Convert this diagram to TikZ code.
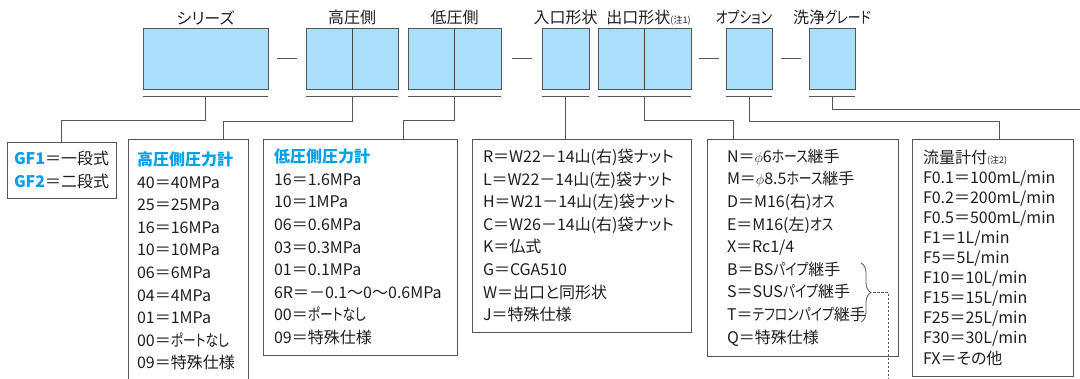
\documentclass[tikz,border=0pt]{standalone}
\usepackage{fontspec}
\setmainfont{Noto Sans CJK JP}[RawFeature=+palt]
\newfontfamily\kana{Noto Sans CJK JP}[RawFeature=+palt, FakeStretch=0.8]
\usetikzlibrary{positioning,calc,decorations.pathreplacing}
\definecolor{boxblue}{RGB}{171,223,249}
\definecolor{hdblue}{RGB}{0,160,233}
\definecolor{ink}{RGB}{30,30,30}
\definecolor{framegray}{RGB}{85,85,85}
\newcommand{\hd}[1]{\textcolor{hdblue}{\bfseries #1}}
\newcommand{\nt}[1]{{\fontsize{9}{9}\selectfont #1}}
\newcommand{\kn}[1]{{\kana #1}}
\newcommand{\phis}{{\fontsize{15}{15}\selectfont$\phi$}}

\begin{document}
\begin{tikzpicture}[x=1pt,y=-1pt,
    codebox/.style = {draw=framegray, line width=1pt, fill=boxblue, minimum height=61pt, inner sep=0pt, outer sep=0pt},
    toplabel/.style = {inner sep=0pt, text=ink},
    listbox/.style = {draw=framegray, line width=1pt, anchor=north west, align=left, inner ysep=0pt, outer sep=0pt, text=ink, font=\fontsize{16}{22.6}\selectfont},
    conn/.style = {draw=framegray, line width=1pt},
    dotline/.style = {draw=framegray, line width=0.8pt, dash pattern=on 2.5pt off 1.5pt},
    node distance={3pt}, font=\fontsize{16}{19}\selectfont]
        \useasboundingbox (0,0) rectangle (1080,378);
        % code boxes
        \node[codebox, minimum width=125pt] (s) at (205.5,58.5) {};
        \node[codebox, minimum width=92pt] (hp) at (352,58.5) {};
        \node[codebox, minimum width=93pt] (lp) at (454.5,58.5) {};
        \node[codebox, minimum width=47pt] (inp) at (565.5,58.5) {};
        \node[codebox, minimum width=93pt] (outp) at (644.5,58.5) {};
        \node[codebox, minimum width=46pt] (opt) at (749,58.5) {};
        \node[codebox, minimum width=46pt] (cln) at (832,58.5) {};
        \draw[line width=0.8pt, draw=framegray!80!black] (hp.north) -- (hp.south);
        \draw[line width=0.8pt, draw=framegray!80!black] (lp.north) -- (lp.south);
        \draw[line width=0.8pt, draw=framegray!80!black] (outp.north) -- (outp.south);
        \node[toplabel, above=of s] (s-l) {シリーズ};
        \node[toplabel, above=of hp] (hp-l) {高圧側};
        \node[toplabel, above=of lp] (lp-l) {低圧側};
        \node[toplabel, above=of inp] (inp-l) {入口形状};
        \node[toplabel, above=of outp, xshift=4pt] (outp-l) {出口形状\nt{(注1)}};
        \node[toplabel, above=of opt, xshift=-5pt] (opt-l) {\kn{オプション}};
        \node[toplabel, above=of cln] (cln-l) {洗浄\kn{グレード}};
        \draw[conn] ($(s.east)!.5!(hp.west)+(-10,0)$) -- ++(20,0);
        \draw[conn] ($(lp.east)!.5!(inp.west)+(-10,0)$) -- ++(20,0);
        \draw[conn] ($(outp.east)!.5!(opt.west)+(-10,0)$) -- ++(20,0);
        \draw[conn] ($(opt.east)!.5!(cln.west)+(-10,0)$) -- ++(20,0);
        \foreach \b in {s,hp,lp,inp,outp,opt,cln} {
            \draw[conn] ($(\b.south west)+(0,7)$) -- ($(\b.south east)+(0,7)$);
            \coordinate (\b-u) at ($(\b.south)+(0,7)$);
        }
        % code lists
        \node[listbox, inner xsep=7pt, text width=95pt, minimum height=56pt] (gf) at (7,142)
            {\hd{GF1}＝一段式\\\hd{GF2}＝二段式};
        \node[listbox, draw=none, inner xsep=9pt, text width=102pt, minimum height=244pt] (hp-list) at (128,139)
            {\hd{高圧側圧力計}\\40＝40MPa\\25＝25MPa\\16＝16MPa\\10＝10MPa\\06＝6MPa\\04＝4MPa\\01＝1MPa\\00＝\kn{ポートなし}\\09＝特殊仕様};
        \draw[conn] (hp-list.south west) |- (hp-list.north east) -- (hp-list.south east);
        \node[listbox, inner xsep=11pt, text width=172pt, minimum height=216pt] (lp-list) at (263,139)
            {\hd{低圧側圧力計}\\16＝1.6MPa\\10＝1MPa\\06＝0.6MPa\\03＝0.3MPa\\01＝0.1MPa\\6R＝－0.1〜0〜0.6MPa\\00＝\kn{ポートなし}\\09＝特殊仕様};
        \node[listbox, inner xsep=11pt, text width=197pt, minimum height=193pt] (in-list) at (472,139)
            {R＝W22－14山(右)袋ナット\\L＝W22－14山(左)袋ナット\\H＝W21－14山(左)袋ナット\\C＝W26－14山(右)袋ナット\\K＝仏式\\G＝CGA510\\W＝出口と同形状\\J＝特殊仕様};
        \node[listbox, inner xsep=20pt, text width=151pt, minimum height=217pt] (opt-list) at (707,139)
            {N＝\phis6\kn{ホース}継手\\M＝\phis8.5\kn{ホース}継手\\D＝M16(右)\kn{オス}\\E＝M16(左)\kn{オス}\\X＝Rc1/4\\B＝BS\kn{パイプ}継手\\S＝SUS\kn{パイプ}継手\\T＝\kn{テフロンパイプ}継手\\Q＝特殊仕様};
        \node[listbox, inner xsep=11pt, text width=139pt, minimum height=237pt, font=\fontsize{16}{20.1}\selectfont] (flw-list) at (912,139)
            {流量計付\nt{(注2)}\\F0.1＝100mL/min\\F0.2＝200mL/min\\F0.5＝500mL/min\\F1＝1L/min\\F5＝5L/min\\F10＝10L/min\\F15＝15L/min\\F25＝25L/min\\F30＝30L/min\\FX＝その他};
        % connectors
        \coordinate (hp-in) at ($(hp-list.north west)+(95,0)$);
        \coordinate (lp-in) at ($(lp-list.north west)+(140,0)$);
        \coordinate (opt-in) at ($(opt-list.north west)+(26,0)$);
        \coordinate (flw-in) at ($(flw-list.north west)+(87,0)$);
        \coordinate (cln-end) at (1080,109);
        \draw[conn] (s-u) -- ++(0,24) -| (gf.north);
        \draw[conn] (hp-u) -- ++(0,25) -| (hp-in);
        \draw[conn] (lp-u) -- ++(0,24) -| (lp-in);
        \draw[conn] (inp-u) -- (inp-u |- in-list.north);
        \draw[conn] (outp-u) -- ++(0,24) -| (opt-in);
        \draw[conn] (opt-u) -- ++(0,25) -| (flw-in);
        \draw[conn] (cln-u) |- (cln-end);
        % brace to the pipe fittings
        \coordinate (br-top) at (861,263);
        \coordinate (br-bot) at (861,322);
        \coordinate (br-tip) at (873,292.5);
        \coordinate (dot-end) at (888,378);
        \draw[line width=0.8pt, draw=framegray, decorate, decoration={brace, amplitude=10pt}] (br-top) -- (br-bot);
        \draw[dotline] (br-tip) -| (dot-end);
\end{tikzpicture}
\end{document}
